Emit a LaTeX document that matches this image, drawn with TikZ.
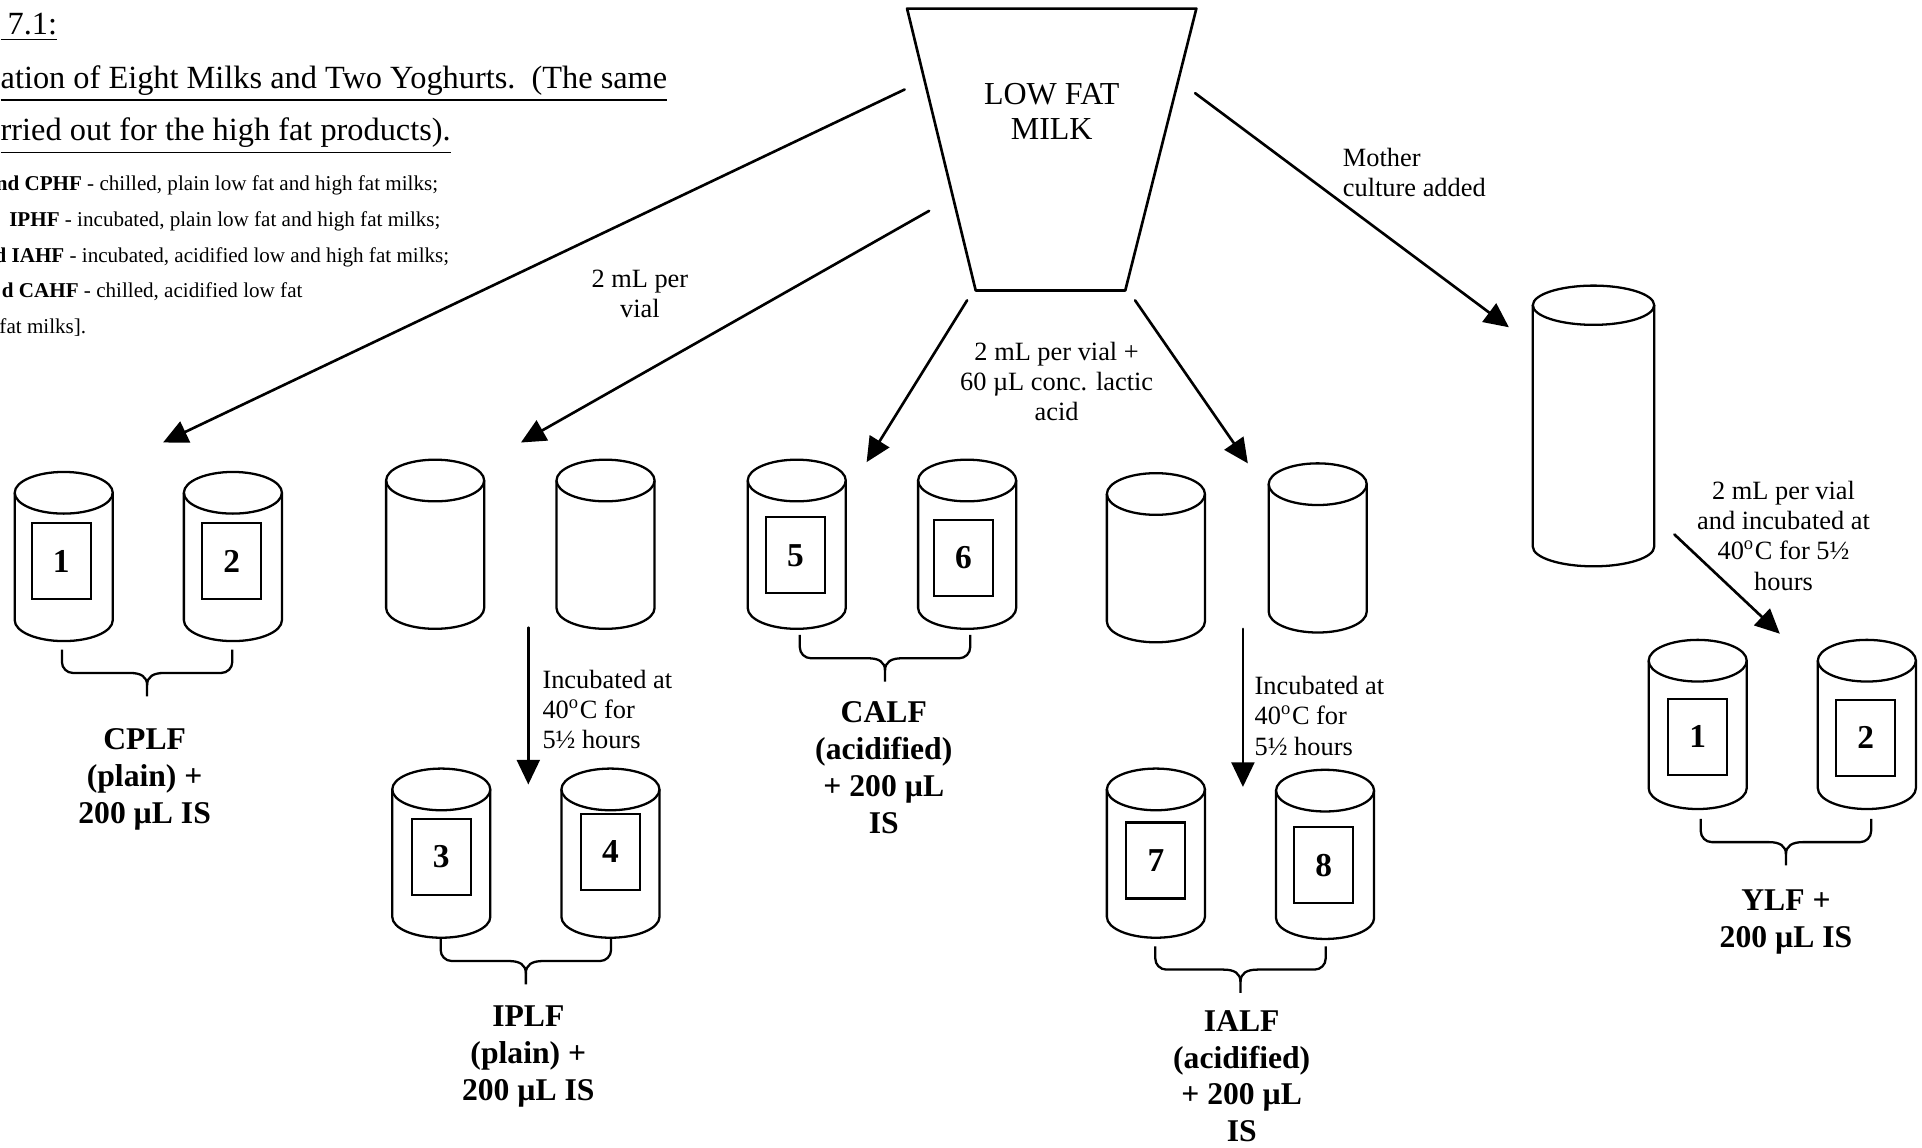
\documentclass[tikz,border=0pt]{standalone}
\usepackage{amsmath}
\usepackage{fontspec}
\setmainfont{Liberation Serif}
\usepackage{tkz-euclide}
\usetikzlibrary{arrows.meta}

\tikzset{
  arr/.style = {line width=0.75pt,-{Triangle[length=7pt,width=6.5pt]}},
  tag/.style = {draw,line width=0.6pt,inner sep=0pt,minimum width=0.59cm,
                minimum height=0.76cm,font=\fontsize{9.5}{11}\selectfont\bfseries},
  note/.style = {font=\fontsize{7.5}{8.6}\selectfont,align=center,inner sep=0pt},
  sample/.style = {font=\fontsize{9}{10.5}\selectfont\bfseries,align=center,inner sep=0pt},
  head/.style = {font=\fontsize{9.2}{10}\selectfont,anchor=base west,inner sep=0pt},
  key/.style = {font=\fontsize{6}{7}\selectfont,anchor=base west,inner sep=0pt},
  vial/.pic = {
    \draw[line width=0.65pt] (-40,0) -- (-40,-104)
      arc[start angle=180,end angle=360,x radius=40,y radius=17] -- (40,0);
    \draw[line width=0.65pt] (0,0) ellipse[x radius=40,y radius=17];
  },
  jar/.pic = {
    \draw[line width=0.65pt] (-49.5,0) -- (-49.5,-197)
      arc[start angle=180,end angle=360,x radius=49.5,y radius=16] -- (49.5,0);
    \draw[line width=0.65pt] (0,0) ellipse[x radius=49.5,y radius=16];
  },
  brk/.pic = {
    \draw[line width=0.65pt] (-69.5,0) -- (-69.5,-10) arc[start angle=180,end angle=270,radius=9]
      -- (-14,-19) .. controls (-5,-19) and (0,-22) .. (0,-29) -- (0,-38);
    \draw[line width=0.65pt] (69.5,0) -- (69.5,-10) arc[start angle=0,end angle=-90,radius=9]
      -- (14,-19) .. controls (5,-19) and (0,-22) .. (0,-29);
  }
}

\begin{document}
\begin{tikzpicture}[x=0.012258cm,y=0.012258cm]
\useasboundingbox (0,0) rectangle (1568,-936);

% heading and key
\node[head] (fig)  at (0,-28)  {\underline{\kern2pt 7.1:}};
\node[head] (ttl)  at (0,-72)  {\underline{ation of Eight Milks and Two Yoghurts.\ \ (The same}};
\node[head] (ttl2) at (0,-115) {\underline{rried out for the high fat products).}};
\node[key] (key1) at (-4,-155) {\textbf{nd CPHF} - chilled, plain low fat and high fat milks;};
\node[key] (key2) at (7,-185)  {\textbf{IPHF} - incubated, plain low fat and high fat milks;};
\node[key] (key3) at (-5,-214) {\textbf{d IAHF} - incubated, acidified low and high fat milks;};
\node[key] (key4) at (1,-243)  {\textbf{d CAHF} - chilled, acidified low fat};
\node[key] (key5) at (-1,-272) {fat milks].};

% milk beaker
\tkzDefPoints{740/-7/A,976/-7/B,918/-237/C,796/-237/D}
\tkzDrawPolygon[line width=0.75pt](A,B,C,D)
\node[font=\fontsize{9.1}{10.1}\selectfont,align=center] (milk) at (858,-91) {LOW FAT\\MILK};

% arrows out of the beaker
\tkzDefPoints{738/-73/s1,758/-172/s2,789/-245/s3,926/-245/s4,975/-76/s5,
              133/-361/t1,425/-361/t2,707/-377/t3,1018/-378/t4,1231/-267/t5}
\tkzDrawSegments[arr](s1,t1 s2,t2 s3,t3 s4,t4 s5,t5)
\node[note] (per)  at (522,-240) {2 mL per\\vial};
\node[note] (acid) at (862,-311) {2 mL per vial +\\60 µL conc. lactic\\acid};
\node[note,align=left,anchor=west] (mother) at (1095,-141) {Mother\\culture added};

% vials
\pic at (52,-402) {vial};
\pic at (190,-402) {vial};
\pic at (355,-392) {vial};
\pic at (494,-392) {vial};
\pic at (360,-644) {vial};
\pic at (498,-644) {vial};
\pic at (650,-392) {vial};
\pic at (789,-392) {vial};
\pic at (943,-403) {vial};
\pic at (1075,-395) {vial};
\pic at (943,-644) {vial};
\pic at (1081,-645) {vial};
\pic at (1300,-249) {jar};
\pic at (1385,-539) {vial};
\pic at (1523,-539) {vial};

\node[tag] (n1) at (50,-458)   {1};
\node[tag] (n2) at (189,-458)  {2};
\node[tag] (n3) at (360,-699)  {3};
\node[tag] (n4) at (498,-695)  {4};
\node[tag] (n5) at (649,-453)  {5};
\node[tag] (n6) at (786,-455)  {6};
\node[tag] (n7) at (943,-702)  {7};
\node[tag] (n8) at (1080,-706) {8};
\node[tag] (y1) at (1385,-601) {1};
\node[tag] (y2) at (1522,-602) {2};

% incubation steps
\tkzDefPoints{431/-512/s6,431/-640/t6,1014/-513/s7,1014/-642/t7,1366/-436/s8,1452/-517/t8}
\tkzDrawSegments[arr](s6,t6 s7,t7 s8,t8)
\node[note,align=left,anchor=west] (inc1) at (442,-579)  {Incubated at\\40\textsuperscript{o}C for\\5½ hours};
\node[note,align=left,anchor=west] (inc2) at (1023,-584) {Incubated at\\40\textsuperscript{o}C for\\5½ hours};
\node[note] (yog) at (1455,-437) {2 mL per vial\\and incubated at\\40\textsuperscript{o}C for 5½\\hours};

% braces and sample names
\tkzDefPoints{120/-530/m1,429/-765/m2,722/-518/m3,1012/-772/m4,1457/-668/m5}
\pic at (m1) {brk};
\pic at (m2) {brk};
\pic at (m3) {brk};
\pic at (m4) {brk};
\pic at (m5) {brk};
\node[sample] (cplf) at (118,-636)  {CPLF\\(plain) +\\200 µL IS};
\node[sample] (iplf) at (431,-862)  {IPLF\\(plain) +\\200 µL IS};
\node[sample] (calf) at (721,-626)  {CALF\\(acidified)\\+ 200 µL\\IS};
\node[sample] (ialf) at (1013,-878) {IALF\\(acidified)\\+ 200 µL\\IS};
\node[sample] (ylf)  at (1457,-752) {YLF +\\200 µL IS};
\end{tikzpicture}
\end{document}
